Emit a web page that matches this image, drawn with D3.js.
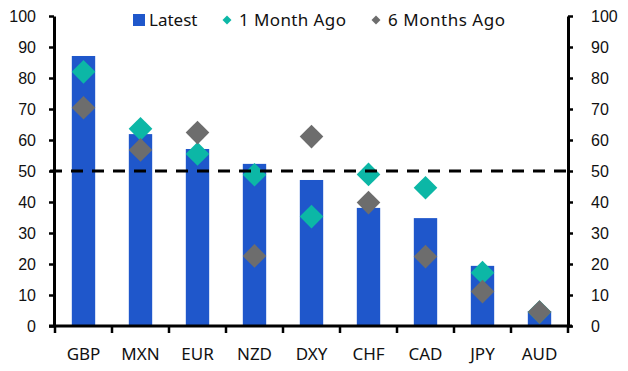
<!DOCTYPE html>
<html>
<head>
<meta charset="utf-8">
<script src="https://cdn.jsdelivr.net/npm/d3@7"></script>
<style>
  html, body { margin: 0; padding: 0; background: #fff; }
  svg { display: block; font-family: "Noto Sans", "Open Sans", sans-serif; }
</style>
</head>
<body>
<div id="chart"></div>
<script>
// ── Data ───────────────────────────────────────────────────────────────
const categories  = ["GBP", "MXN", "EUR", "NZD", "DXY", "CHF", "CAD", "JPY", "AUD"];
const latest      = [87.1, 61.9, 57.1, 52.3, 47.1, 38.1, 34.8, 19.4, 4.8];
const oneMonthAgo = [82.0, 63.6, 55.5, 48.8, 35.3, 48.9, 44.6, 17.2, 4.5];
const sixMonthAgo = [70.4, 56.8, 62.4, 22.6, 61.1, 39.8, 22.4, 11.1, 4.5];
const yTicks      = [0, 10, 20, 30, 40, 50, 60, 70, 80, 90, 100];
const threshold   = 50;

const W = 628, H = 371;
const m = { left: 55, right: 60, top: 16, bottom: 45 };

const BLUE = "#1f57cb", TEAL = "#0cb7a6", GREY = "#6d6d6d";

const svg = d3.select("#chart").append("svg").attr("width", W).attr("height", H);

const x = d3.scaleBand().domain(categories).range([m.left, W - m.right]).paddingInner(0.59).paddingOuter(0.295);
const xb = d3.scaleBand().domain(categories).range([m.left, W - m.right]);
const y = d3.scaleLinear().domain([0, 100]).range([H - m.bottom, m.top]);

// ── Bars ───────────────────────────────────────────────────────────────
svg.append("g").selectAll("rect").data(categories).join("rect")
  .attr("x", c => x(c)).attr("width", x.bandwidth())
  .attr("y", (c, i) => y(latest[i])).attr("height", (c, i) => y(0) - y(latest[i]))
  .attr("fill", BLUE);

// ── Diamonds ───────────────────────────────────────────────────────────
const diamond = d3.symbol().type(d3.symbolSquare).size(280);
function drawDiamonds(vals, color) {
  svg.append("g").selectAll("path").data(categories).join("path")
    .attr("d", diamond)
    .attr("transform", (c, i) => `translate(${xb(c) + xb.bandwidth() / 2},${y(vals[i])}) rotate(45)`)
    .attr("fill", color);
}
drawDiamonds(oneMonthAgo, TEAL);
drawDiamonds(sixMonthAgo, GREY);

// ── Threshold line ─────────────────────────────────────────────────────
svg.append("line")
  .attr("x1", m.left - 5).attr("x2", W - m.right)
  .attr("y1", y(threshold)).attr("y2", y(threshold))
  .attr("stroke", "#000").attr("stroke-width", 3).attr("stroke-dasharray", "12,9");

// ── Axes ───────────────────────────────────────────────────────────────
function styleAxis(g) {
  g.select(".domain").attr("stroke-width", 3);
  g.selectAll(".tick line").attr("stroke-width", 2.5);
  g.selectAll(".tick text").attr("font-size", 16).attr("fill", "#111");
}

svg.append("g").attr("transform", `translate(${m.left - 1},0)`)
  .call(d3.axisLeft(y).tickValues(yTicks).tickSize(5).tickSizeOuter(0).tickPadding(13))
  .call(styleAxis);

svg.append("g").attr("transform", `translate(${W - m.right},0)`)
  .call(d3.axisRight(y).tickValues(yTicks).tickSize(5).tickSizeOuter(0).tickPadding(18))
  .call(g => g.selectAll(".tick text").attr("text-anchor", "start"))
  .call(styleAxis);

const xAxis = svg.append("g").attr("transform", `translate(0,${y(0)})`);
xAxis.append("line")
  .attr("x1", m.left - 6).attr("x2", W - m.right + 4)
  .attr("stroke", "#000").attr("stroke-width", 3);
xAxis.selectAll("line.tk").data(d3.range(categories.length + 1)).join("line").attr("class", "tk")
  .attr("x1", i => m.left + i * xb.step()).attr("x2", i => m.left + i * xb.step())
  .attr("y1", 0).attr("y2", 7)
  .attr("stroke", "#000").attr("stroke-width", 2.5);
xAxis.selectAll("text").data(categories).join("text")
  .attr("x", c => xb(c) + xb.bandwidth() / 2).attr("y", 34)
  .attr("text-anchor", "middle").attr("font-size", 17).attr("fill", "#111")
  .text(c => c);

// ── Legend ─────────────────────────────────────────────────────────────
const legend = svg.append("g").attr("font-size", 17).attr("fill", "#111");
legend.append("rect").attr("x", 133).attr("y", 14).attr("width", 12).attr("height", 12).attr("fill", BLUE);
legend.append("text").attr("x", 149).attr("y", 26).text("Latest");
const small = d3.symbol().type(d3.symbolSquare).size(40);
legend.append("path").attr("d", small).attr("transform", "translate(227,20) rotate(45)").attr("fill", TEAL);
legend.append("text").attr("x", 239).attr("y", 26).attr("textLength", 107).text("1 Month Ago");
legend.append("path").attr("d", small).attr("transform", "translate(376,20) rotate(45)").attr("fill", GREY);
legend.append("text").attr("x", 388).attr("y", 26).attr("textLength", 117).text("6 Months Ago");
</script>
</body>
</html>
